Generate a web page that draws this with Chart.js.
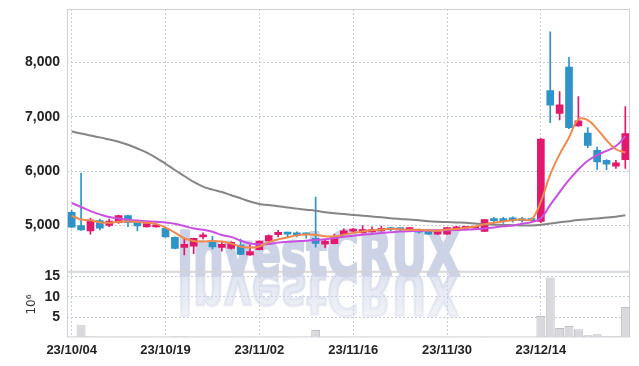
<!DOCTYPE html>
<html>
<head>
<meta charset="utf-8">
<script src="https://cdn.jsdelivr.net/npm/chart.js@4"></script>
<style>
html, body { margin: 0; padding: 0; background: #fff; }
</style>
</head>
<body>
<canvas id="chart_1" width="639" height="366"></canvas>
<script>
// trading days, 23/10/04 .. 23/12/28
const dates = [
    '23/10/04','23/10/05','23/10/06','23/10/10','23/10/11','23/10/12','23/10/13','23/10/16','23/10/17','23/10/18',
    '23/10/19','23/10/20','23/10/23','23/10/24','23/10/25','23/10/26','23/10/27','23/10/30','23/10/31','23/11/01',
    '23/11/02','23/11/03','23/11/06','23/11/07','23/11/08','23/11/09','23/11/10','23/11/13','23/11/14','23/11/15',
    '23/11/16','23/11/17','23/11/20','23/11/21','23/11/22','23/11/23','23/11/24','23/11/27','23/11/28','23/11/29',
    '23/11/30','23/12/01','23/12/04','23/12/05','23/12/06','23/12/07','23/12/08','23/12/11','23/12/12','23/12/13',
    '23/12/14','23/12/15','23/12/18','23/12/19','23/12/20','23/12/21','23/12/22','23/12/26','23/12/27','23/12/28'
];

const openP = [5240,5000,4900,5090,5000,5050,5180,5060,4975,4975, 4950,4780,4595,4620,4790,4700,4595,4580,4640,4457,
               4555,4715,4830,4875,4865,4840,4765,4655,4665,4830, 4895,4865,4880,4900,4960,4940,4925,4925,4915,4840,
               4840,4940,4950,4950,4890,5100,5100,5115,5120,5100, 5075,7480,7060,7910,6830,6700,6380,6200,6090,6210];
const highP = [5280,5960,5130,5120,5120,5190,5190,5080,5075,5050, 4960,4790,4750,4770,4865,4800,4715,4700,4750,4640,
               4720,4830,4910,4880,4885,4865,5520,4725,4840,4940, 4950,5000,4975,4990,4965,4945,4965,4935,4925,4900,
               4965,4985,4985,4975,5115,5150,5150,5160,5150,5140, 6600,8560,7460,8090,7370,6800,6440,6210,6200,7185];
const lowP  = [4960,4910,4840,4920,4980,5040,4980,4900,4970,4970, 4785,4570,4460,4480,4755,4570,4530,4565,4465,4450,
               4550,4710,4790,4790,4790,4765,4600,4595,4660,4825, 4875,4860,4875,4895,4905,4900,4915,4860,4835,4830,
               4835,4930,4945,4945,4885,5040,5040,5060,5060,5050, 5050,6890,6940,6780,6820,6430,6030,6025,6050,6050];
const closeP = [4970,4920,5100,4950,5080,5180,5050,4990,5035,5010, 4790,4580,4655,4765,4825,4605,4655,4690,4470,4520,
                4715,4815,4875,4840,4830,4830,4670,4715,4790,4900, 4905,4925,4925,4950,4925,4925,4945,4876,4840,4890,
                4960,4975,4970,4965,5110,5090,5090,5105,5090,5090, 6590,7210,7220,6800,6925,6470,6170,6125,6150,6690];

// moving averages
const maShort = [5180,5110,5098,5060,5050,5070,5074,5065,5050,5030, 4960,4870,4765,4715,4705,4716,4705,4667,4615,4593,
                 4615,4695,4745,4780,4818,4835,4830,4800,4800,4830, 4864,4889,4913,4926,4938,4930,4922,4920,4910,4905,
                 4926,4935,4960,4980,5025,5050,5075,5098,5110,5111, 5440,5938,6309,6617,6951,6938,6772,6568,6401,6340];
const maMid = [5413,5340,5265,5205,5155,5128,5105,5090,5080,5068, 5055,5030,4990,4945,4922,4885,4825,4790,4720,4670,
               4655,4660,4685,4700,4710,4720,4735,4745,4770,4792, 4810,4830,4845,4864,4876,4888,4895,4900,4908,4912,
               4913,4915,4922,4930,4945,4965,4985,5000,5030,5061, 5135,5380,5615,5840,6030,6190,6295,6370,6460,6640];
const maLong = [6728,6690,6655,6620,6580,6540,6485,6415,6340,6245, 6135,6020,5910,5800,5715,5660,5615,5555,5500,5440,
                5395,5375,5355,5330,5310,5290,5270,5245,5225,5210, 5195,5180,5165,5150,5135,5120,5108,5095,5078,5068,
                5062,5055,5050,5035,5022,5015,5010,5005,5000,5000, 5012,5035,5058,5080,5100,5115,5130,5145,5160,5190];

// volume, millions
const volume = [0.15,3.0,0.2,0.15,0.1,0.15,0.1,0.1,0.1,0.05, 0.15,0.2,0.2,0.15,0.1,0.1,0.1,0.1,0.15,0.1,
                0.15,0.1,0.1,0.1,0.05,0.05,1.8,0.1,0.1,0.1, 0.05,0.1,0.05,0.05,0.05,0.05,0.05,0.05,0.05,0.05,
                0.1,0.05,0.05,0.05,0.1,0.05,0.05,0.05,0.05,0.05, 5.3,14.75,2.3,2.8,2.0,0.5,0.8,0.3,0.3,7.5];

const priceTicks = [5000, 6000, 7000, 8000];
const volumeTicks = [5, 10, 15];

const UP = '#e2186c';
const DOWN = '#2e93c8';
const GRID = '#c9cbdf';
const TICK_FONT = { family: '"Liberation Sans Narrow", "Liberation Sans", sans-serif', size: 14, weight: 'bold' };

let candleColors = openP.map((o, i) => closeP[i] >= o ? UP : DOWN);

// fixed axis width, no extra room for edge labels
function fitAxis(s) {
    s.width = 67;
    s.paddingTop = 0;
    s.paddingBottom = 0;
}

// watermark + panel frames behind the marks
const backdrop = {
    id: 'backdrop',
    beforeDatasetsDraw(chart) {
        let ctx = chart.ctx;
        let area = chart.chartArea;
        let y = chart.scales.y, yv = chart.scales.yv;

        ctx.save();
        ctx.font = 'bold 60px "DejaVu Sans", sans-serif';
        ctx.lineJoin = 'round';
        let w = ctx.measureText('InvestCRUX').width;
        let sx = 283 / w;
        ctx.translate(177, 275);
        ctx.scale(sx, 1);
        ctx.fillStyle = '#cdd3e6';
        ctx.strokeStyle = '#cdd3e6';
        ctx.lineWidth = 3;
        ctx.fillText('InvestCRUX', 0, 0);
        ctx.strokeText('InvestCRUX', 0, 0);
        ctx.scale(1, -1);
        let g = ctx.createLinearGradient(0, 0, 0, -45);
        g.addColorStop(0, 'rgba(205,211,230,0.6)');
        g.addColorStop(1, 'rgba(205,211,230,0.25)');
        ctx.fillStyle = g;
        ctx.strokeStyle = g;
        ctx.fillText('InvestCRUX', 0, 3);
        ctx.strokeText('InvestCRUX', 0, 3);
        ctx.restore();

        ctx.save();
        ctx.strokeStyle = '#d2d2d6';
        ctx.lineWidth = 1;
        ctx.strokeRect(area.left + 0.5, y.top + 0.5, area.right - area.left - 1, y.bottom - y.top - 1);
        ctx.strokeRect(area.left + 0.5, yv.top + 0.5, area.right - area.left - 1, yv.bottom - yv.top - 1);
        ctx.restore();
    }
};

new Chart('chart_1', {
    type: 'bar',
    data: {
        labels: dates,
        datasets: [
            { type: 'line', data: maShort, borderColor: '#ef8a4e', borderWidth: 2, pointRadius: 0, tension: 0.4, yAxisID: 'y', order: 0 },
            { type: 'line', data: maMid, borderColor: '#c94fe3', borderWidth: 2, pointRadius: 0, tension: 0.4, yAxisID: 'y', order: 0 },
            { type: 'line', data: maLong, borderColor: '#858585', borderWidth: 2, pointRadius: 0, tension: 0.4, yAxisID: 'y', order: 0 },
            {
                data: openP.map((o, i) => [o, closeP[i]]),
                backgroundColor: candleColors, borderWidth: 0,
                barThickness: 7, minBarLength: 2, grouped: false, yAxisID: 'y', order: 1
            },
            {
                data: lowP.map((l, i) => [l, highP[i]]),
                backgroundColor: candleColors, borderWidth: 0,
                barThickness: 1, grouped: false, yAxisID: 'y', order: 2
            },
            {
                data: volume,
                backgroundColor: '#d9d9dd', borderColor: '#bfbfc4', borderWidth: 1,
                barPercentage: 0.95, categoryPercentage: 1, grouped: false, yAxisID: 'yv', order: 3
            }
        ]
    },
    options: {
        responsive: false,
        animation: false,
        layout: { padding: { top: 9, right: 9, left: 0, bottom: 3 } },
        plugins: { legend: { display: false }, tooltip: { enabled: false } },
        scales: {
            x: {
                offset: true,
                grid: {
                    offset: false, drawTicks: false,
                    color: c => c.index % 10 === 0 ? GRID : 'transparent'
                },
                border: { display: false, dash: [2, 2] },
                ticks: {
                    autoSkip: false, maxRotation: 0, padding: 5,
                    font: { ...TICK_FONT, size: 13 }, color: '#222',
                    callback: function (v, i) { return i % 10 === 0 ? this.getLabelForValue(v) : ''; }
                }
            },
            yv: {
                position: 'left', stack: 'main', stackWeight: 1,
                min: 0, max: 16.2,
                afterBuildTicks: s => { s.ticks = volumeTicks.map(v => ({ value: v })); },
                afterFit: fitAxis,
                grid: { color: GRID, drawTicks: false },
                border: { display: false, dash: [2, 2] },
                ticks: { autoSkip: false, padding: 7, font: TICK_FONT, color: '#222' },
                title: {
                    display: true, text: '10⁶', color: '#333',
                    font: { family: '"DejaVu Sans", sans-serif', size: 12 },
                    padding: { top: 25, bottom: 0 }
                }
            },
            y: {
                position: 'left', stack: 'main', stackWeight: 4,
                min: 4150, max: 8980,
                afterBuildTicks: s => { s.ticks = priceTicks.map(v => ({ value: v })); },
                afterFit: fitAxis,
                grid: { color: GRID, drawTicks: false },
                border: { display: false, dash: [2, 2] },
                ticks: { autoSkip: false, padding: 7, font: TICK_FONT, color: '#222', callback: v => v.toLocaleString('en-US') }
            }
        }
    },
    plugins: [backdrop]
});
</script>
</body>
</html>
